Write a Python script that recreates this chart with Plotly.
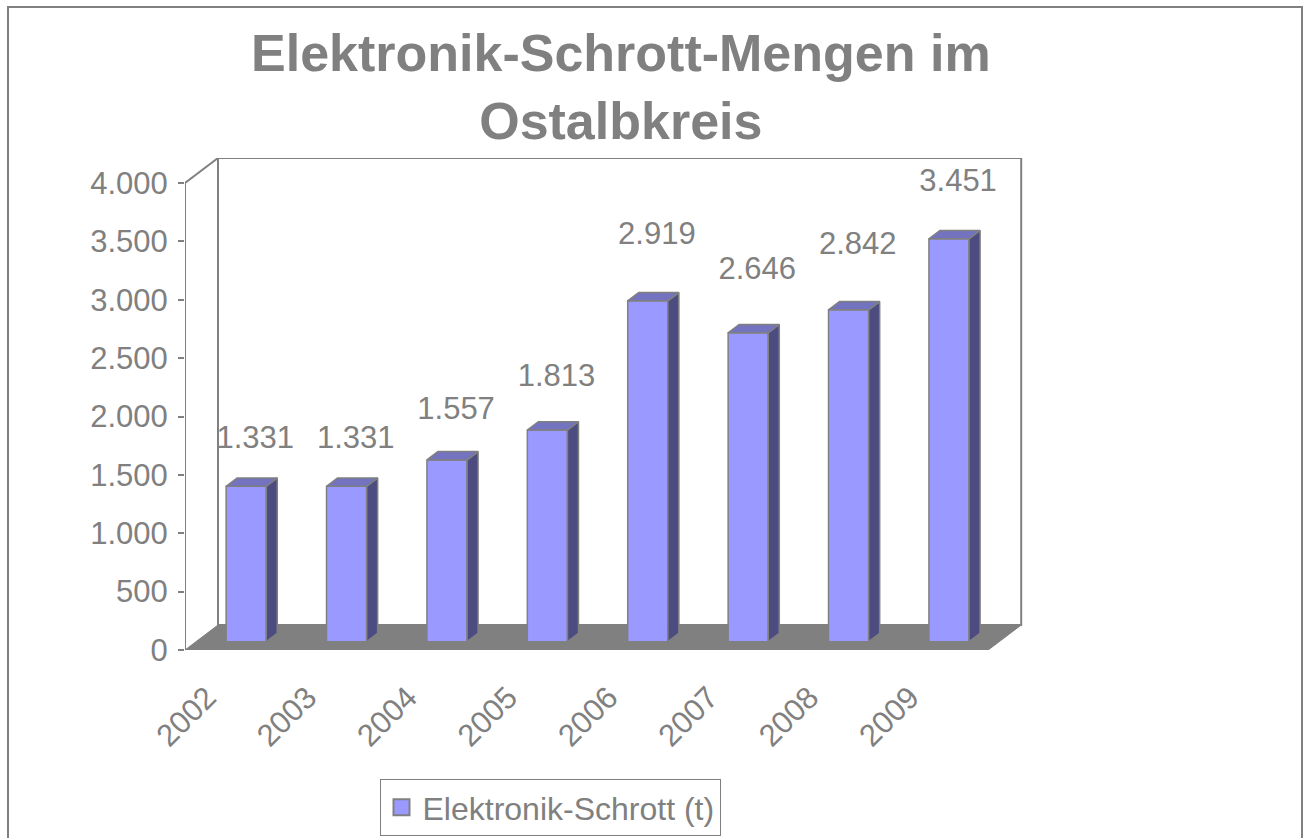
import plotly.graph_objects as go

# ---------------- data ----------------
years = ["2002", "2003", "2004", "2005", "2006", "2007", "2008", "2009"]
values = [1331, 1331, 1557, 1813, 2919, 2646, 2842, 3451]
y_ticks = [0, 500, 1000, 1500, 2000, 2500, 3000, 3500, 4000]
y_tick_labels = ["0", "500", "1.000", "1.500", "2.000", "2.500", "3.000", "3.500", "4.000"]
series_name = "Elektronik-Schrott (t)"
title_text = "Elektronik-Schrott-Mengen im<br>Ostalbkreis"

# ---------------- style / geometry ----------------
W, H = 1308, 838
PL, PR, PT, PB = 185, 1023, 158, 650          # plot area in pixels
CAT_PX = 100.4                                 # pixels per category
VAL_PX = 467.0 / 4000                          # pixels per value unit
DX = 33 / CAT_PX                               # depth offset (category units)
DY = 25 / VAL_PX                               # depth offset (value units)
X_MAX = (PR - PL) / CAT_PX
Y_MAX = (PB - PT) / VAL_PX
GRAY = "#808080"
FRONT = "#9999FF"
TOP = "#7373BF"
SIDE = "#4C4C80"
FONT = "Liberation Sans, Arial, sans-serif"
BAR_W = 0.4
FX, FY = DX / 3, DY / 3          # bar front plane
BX, BY = 2 * DX / 3, 2 * DY / 3  # bar back plane
LABEL_SHIFT = -0.28              # category label anchor shift

n = len(years)


def fmt(v):
    return f"{v:,}".replace(",", ".")


def px_to_paper_x(px):
    return (px - PL) / (PR - PL)


def px_to_paper_y(py):
    return (PB - py) / (PB - PT)


fig = go.Figure()

# side faces and top faces (polygons computed from data)
side_x, side_y, top_x, top_y = [], [], [], []
for i, v in enumerate(values):
    left = i + 0.5 - BAR_W / 2
    right = i + 0.5 + BAR_W / 2
    side_x += [right + FX, right + BX, right + BX, right + FX, right + FX, None]
    side_y += [FY, BY, v + BY, v + FY, FY, None]
    top_x += [left + FX, right + FX, right + BX, left + BX, left + FX, None]
    top_y += [v + FY, v + FY, v + BY, v + BY, v + FY, None]

fig.add_trace(go.Scatter(x=side_x, y=side_y, mode="lines", fill="toself",
                         fillcolor=SIDE, line=dict(color=GRAY, width=1.5),
                         showlegend=False, hoverinfo="skip"))
fig.add_trace(go.Scatter(x=top_x, y=top_y, mode="lines", fill="toself",
                         fillcolor=TOP, line=dict(color=GRAY, width=1.5),
                         showlegend=False, hoverinfo="skip"))

# front faces
fig.add_trace(go.Bar(
    x=[i + 0.5 + FX for i in range(n)], y=values, base=[FY] * n, width=BAR_W,
    marker=dict(color=FRONT, line=dict(color=GRAY, width=1.5)),
    name=series_name, showlegend=False,
))

# legend entry (square swatch)
fig.add_trace(go.Scatter(
    x=[None], y=[None], mode="markers", name=series_name, showlegend=True,
    marker=dict(symbol="square", size=16, color=FRONT, line=dict(color=GRAY, width=2)),
))

# data labels
fig.add_trace(go.Scatter(
    x=[i + 0.5 + 0.2 for i in range(n)],
    y=[min(1.1 * v + 334, 4000) for v in values],
    text=[fmt(v) for v in values], mode="text", textposition="middle center",
    textfont=dict(family=FONT, size=31, color=GRAY),
    showlegend=False, hoverinfo="skip",
))

shapes = []
# floor
shapes.append(dict(type="path", xref="x", yref="y", layer="below",
                   path=f"M 0 0 L {n} 0 L {n + DX} {DY} L {DX} {DY} Z",
                   fillcolor=GRAY, line=dict(color=GRAY, width=1)))
# back wall frame
shapes.append(dict(type="rect", xref="x", yref="y", layer="below",
                   x0=DX, y0=DY, x1=n + DX, y1=4000 + DY,
                   line=dict(color=GRAY, width=2)))
# left wall top edge
shapes.append(dict(type="line", xref="x", yref="y", layer="below",
                   x0=0, y0=4000, x1=DX, y1=4000 + DY,
                   line=dict(color=GRAY, width=2)))
# value axis line
shapes.append(dict(type="line", xref="x", yref="y", layer="below",
                   x0=0, y0=0, x1=0, y1=4000,
                   line=dict(color=GRAY, width=2)))
# category axis tick marks (between categories)
for i in range(n + 1):
    shapes.append(dict(type="line", xref="x", yref="y", ysizemode="pixel",
                       yanchor=0, x0=i, x1=i, y0=0, y1=-8,
                       line=dict(color="#A0A0A0", width=1.5)))
# chart area border
shapes.append(dict(type="rect", xref="paper", yref="paper",
                   x0=px_to_paper_x(8), x1=px_to_paper_x(1302),
                   y0=px_to_paper_y(845), y1=px_to_paper_y(7),
                   line=dict(color=GRAY, width=2), layer="below"))

fig.update_layout(
    width=W, height=H,
    margin=dict(l=PL, r=W - PR, t=PT, b=H - PB, pad=0, autoexpand=False),
    paper_bgcolor="white", plot_bgcolor="rgba(0,0,0,0)",
    shapes=shapes,
    showlegend=True,
    font=dict(family=FONT, color=GRAY, size=31),
    xaxis=dict(range=[0, X_MAX], tickvals=[i + 0.5 + LABEL_SHIFT for i in range(n)],
               ticktext=years, tickangle=-45, ticks="", ticklabelstandoff=22,
               showgrid=False, zeroline=False, showline=False, automargin=False,
               tickfont=dict(family=FONT, size=31, color=GRAY), fixedrange=True),
    yaxis=dict(range=[0, Y_MAX], tickvals=y_ticks, ticktext=y_tick_labels,
               ticks="outside", ticklen=6, tickcolor=GRAY, tickwidth=1.5,
               ticklabelstandoff=4, automargin=False,
               showgrid=False, zeroline=False, showline=False,
               tickfont=dict(family=FONT, size=31, color=GRAY), fixedrange=True),
    legend=dict(x=px_to_paper_x(550), y=px_to_paper_y(779), xanchor="center", yanchor="top",
                bordercolor=GRAY, borderwidth=1, bgcolor="white", itemwidth=32,
                font=dict(family=FONT, size=32, color=GRAY)),
    annotations=[dict(text=f"<b>{title_text}</b>", xref="paper", yref="paper",
                      x=px_to_paper_x(621), y=px_to_paper_y(22), xanchor="center",
                      yanchor="top", showarrow=False,
                      font=dict(family=FONT, size=52, color=GRAY))],
)

fig.write_html(
    "out.html",
    config={"displayModeBar": False},
    post_script=(
        "document.documentElement.style.margin='0';"
        "document.documentElement.style.overflow='hidden';"
        "document.body.style.margin='0';"
        "document.body.style.overflow='hidden';"
    ),
)
